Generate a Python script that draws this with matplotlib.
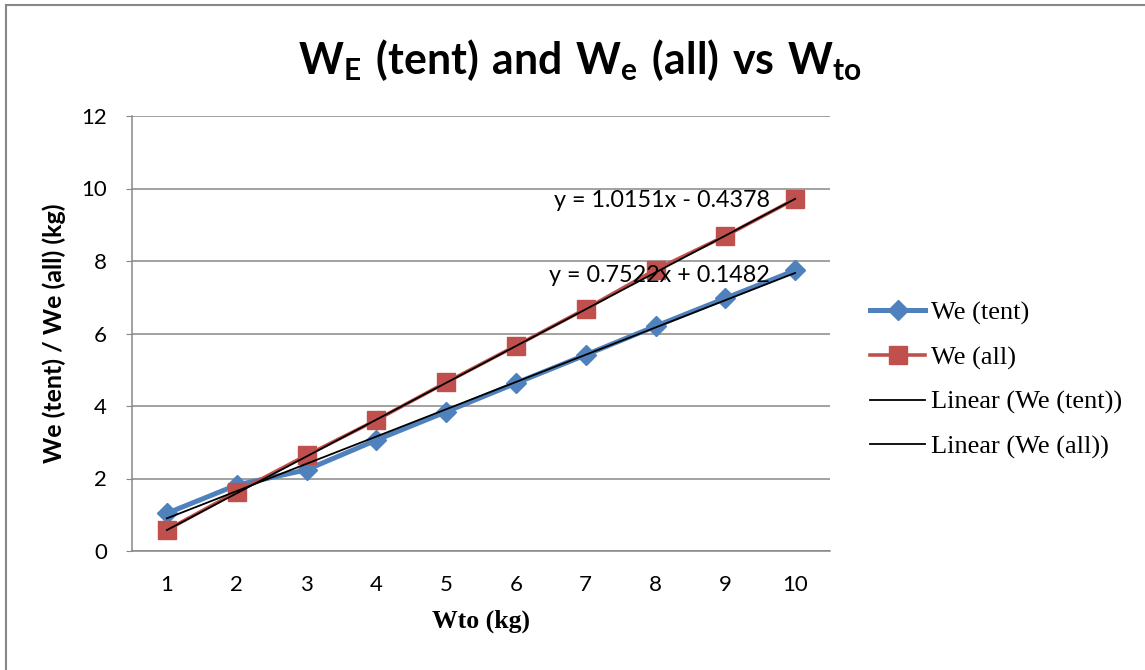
import matplotlib
matplotlib.use("Agg")
import matplotlib.pyplot as plt
from matplotlib.patches import Rectangle

# data
wto = [1, 2, 3, 4, 5, 6, 7, 8, 9, 10]
we_tent = [1.04, 1.82, 2.24, 3.06, 3.84, 4.63, 5.41, 6.20, 6.97, 7.74]
we_all = [0.58, 1.63, 2.64, 3.61, 4.65, 5.66, 6.68, 7.76, 8.69, 9.71]

# trendline coefficients shown on the chart
fit_tent = (0.7522, 0.1482)
fit_all = (1.0151, -0.4378)
eq_tent = "y = 0.7522x + 0.1482"
eq_all = "y = 1.0151x - 0.4378"

y_ticks = [0, 2, 4, 6, 8, 10, 12]

plt.rcParams['font.family'] = ['Lato', 'DejaVu Sans']
plt.rcParams['mathtext.fontset'] = 'custom'
plt.rcParams['mathtext.rm'] = 'Lato'
plt.rcParams['mathtext.bf'] = 'Lato:bold'

blue = '#4F81BD'
red = '#C0504D'
grey = '#878787'

fig = plt.figure(figsize=(11.45, 6.7), dpi=100)
ax = fig.add_axes([132 / 1145, 1 - 551 / 670, (830 - 132) / 1145, (551 - 116) / 670])

ax.plot(wto, we_tent, color=blue, lw=3.6, marker='D', markersize=10,
        label='We (tent)', zorder=3)
ax.plot(wto, we_all, color=red, lw=2.6, marker='s', markersize=13,
        label='We (all)', zorder=3)

fit_x = [wto[0], wto[-1]]
ax.plot(fit_x, [fit_tent[0] * x + fit_tent[1] for x in fit_x], color='black',
        lw=1.3, label='Linear (We (tent))', zorder=4)
ax.plot(fit_x, [fit_all[0] * x + fit_all[1] for x in fit_x], color='black',
        lw=1.3, label='Linear (We (all))', zorder=4)

ax.text(9.64, 9.66, eq_all, ha='right', va='center', fontsize=16.8, zorder=5)
ax.text(9.64, 7.59, eq_tent, ha='right', va='center', fontsize=16.8, zorder=5)

ax.set_xlim(0.5, 10.5)
ax.set_ylim(0, 12)
ax.set_xticks(wto)
ax.set_yticks(y_ticks)
ax.tick_params(axis='x', length=0, pad=17, labelsize=16)
ax.tick_params(axis='y', length=4, color=grey, pad=14, labelsize=16)
ax.grid(axis='y', color=grey, lw=1.1)
ax.set_axisbelow(True)
for s in ['top', 'right']:
    ax.spines[s].set_visible(False)
for s in ['left', 'bottom']:
    ax.spines[s].set_color(grey)
    ax.spines[s].set_linewidth(1.1)

ax.set_ylabel('We (tent) / We (all) (kg)', fontsize=18, fontweight='bold', labelpad=11)
ax.set_xlabel('Wto (kg)', fontsize=18.5, fontweight='bold',
              family=['Liberation Serif'], labelpad=11)

fig.text(580 / 1145, 1 - 60 / 670,
         r'$\mathbf{W_E\ (tent)\ and\ W_e\ (all)\ vs\ W_{to}}$',
         ha='center', va='center', fontsize=30.8)

fig.legend(loc='center left', bbox_to_anchor=(870 / 1145, 1 - 380 / 670),
           frameon=False, prop={'family': 'Liberation Serif', 'size': 19},
           handlelength=2.1, handletextpad=0.2, labelspacing=0.79,
           borderpad=0, borderaxespad=0)

# outer chart border
fig.patches.append(Rectangle((6 / 1145, -0.5), 2, 1.5 - 5 / 670,
                             transform=fig.transFigure, fill=False,
                             edgecolor=grey, lw=1.5))

fig.savefig('out.png', dpi=100)
